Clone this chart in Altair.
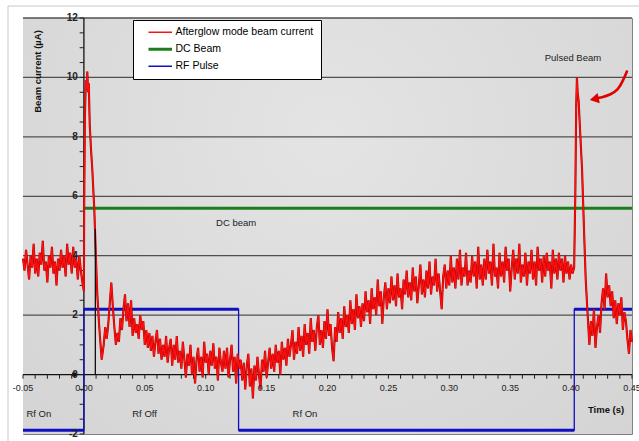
import altair as alt
import pandas as pd

FONT = "Liberation Sans"

# ---------------- data ----------------
SERIES = ["Afterglow mode beam current", "DC Beam", "RF Pulse"]
SERIES_COLORS = ["#ff1010", "#1a7f1a", "#1010c0"]

# red trace: sampled segments (time step 0.00125 s) and the two spikes
seg_a_start, seg_a_step = -0.05, 0.00125
seg_a_vals = [3.9, 3.5, 4.2, 3.7, 3.2, 4.0, 3.6, 4.4, 3.4, 3.9, 3.3, 4.1, 3.7, 4.5,
              3.5, 3.8, 3.1, 4.0, 3.6, 4.3, 3.4, 3.8, 3.0, 3.9, 3.5, 4.2, 3.6, 4.0,
              3.3, 4.4, 3.7, 4.1, 3.4, 4.3, 3.6, 3.9, 3.2, 4.0, 3.5, 3.1, 2.8]

spike1_t = [0.0002, 0.0008, 0.0016, 0.0022, 0.0028, 0.0034, 0.0040, 0.0048, 0.0058,
            0.0069, 0.0085, 0.0099, 0.0110, 0.0126, 0.0146]
spike1_v = [5.5, 8.6, 9.9, 9.6, 10.2, 9.5, 9.8, 8.4, 7.6, 6.9, 5.6, 3.9, 2.7, 1.6, 0.5]

seg_b_start, seg_b_step = 0.01625, 0.00125
seg_b_vals = [
    1.0, 1.6, 1.2, 1.7, 2.4, 3.1, 2.3, 1.6, 1.0, 1.4,
    1.1, 1.9, 1.5, 2.2, 2.7, 1.8, 2.4, 1.6, 2.5, 1.3,
    1.9, 1.4, 1.7, 1.2, 2.0, 1.5, 1.8, 1.0, 1.5, 0.9,
    1.4, 0.8, 1.3, 0.6, 1.1, 1.5, 0.7, 1.2, 0.5, 1.0,
    0.6, 1.3, 0.4, 0.9, 1.2, 0.3, 1.0, 0.5, 1.3, 0.4,
    0.8, 0.2, 1.1, 0.5, -0.1, 0.7, 0.3, 1.0, 0.0, 0.6,
    -0.3, 0.5, 0.9, 0.1, 0.6, -0.1, 1.1, 0.4, 0.7, 0.0,
    0.8, 0.3, 1.05, 0.2, 0.6, -0.2, 0.9, 0.4, 0.1, 0.8,
    0.2, 0.9, -0.1, 0.5, 1.0, 0.1, 0.6, -0.3, 0.7, 0.2,
    0.5, -0.2, 0.4, -0.5, 0.3, 0.7, -0.4, 0.2, -0.8, 0.3,
    -0.2, 0.6, 0.0, -0.5, 0.5, 0.1, 0.8, -0.1, 0.4, 0.9,
    0.2, 0.7, 0.1, 1.0, 0.4, 0.8, 0.0, 1.1, 0.5, 0.9,
    0.3, 1.2, 0.6, 1.0, 1.5, 0.5, 1.1, 0.7, 1.6, 0.8,
    1.3, 0.6, 1.7, 1.0, 1.4, 0.7, 1.9, 1.1, 1.5, 0.8,
    1.6, 2.0, 1.0, 1.5, 0.9, 1.8, 1.2, 2.2, 1.3, 1.7,
    0.9, 0.45, 1.6, 1.1, 2.1, 1.4, 1.9, 1.2, 2.3, 1.6,
    2.0, 1.4, 2.5, 1.7, 2.2, 1.5, 2.7, 1.9, 2.3, 1.6,
    2.4, 1.8, 2.8, 2.1, 2.5, 1.7, 2.9, 2.2, 2.6, 2.0,
    3.2, 2.3, 2.8, 1.7, 2.6, 3.1, 2.2, 2.9, 2.4, 3.3,
    2.5, 3.0, 2.3, 3.4, 2.6, 2.9, 2.2, 3.2, 2.7, 3.5,
    2.6, 3.1, 2.5, 3.6, 2.8, 3.3, 2.4, 3.0, 3.7, 2.7,
    3.2, 2.6, 3.5, 2.9, 3.8, 2.7, 3.3, 3.0, 3.9, 2.8,
    3.4, 2.8, 2.2, 3.3, 3.7, 2.9, 3.5, 3.0, 4.0, 3.1,
    3.6, 2.9, 3.9, 3.2, 4.2, 3.0, 3.6, 3.3, 4.1, 3.0,
    3.5, 3.1, 4.0, 3.3, 3.8, 2.9, 4.3, 3.2, 3.7, 3.0,
    3.9, 3.2, 4.2, 3.4, 3.8, 3.0, 4.4, 3.3, 3.6, 2.9,
    4.1, 3.3, 3.8, 3.1, 4.3, 3.5, 3.9, 2.8, 3.6, 4.2,
    3.2, 3.9, 3.4, 4.4, 3.1, 3.7, 3.3, 4.1, 3.0, 3.8,
    3.4, 4.2, 3.2, 3.8, 3.0, 4.3, 3.5, 3.9, 3.1, 4.0,
    3.3, 4.1, 3.5, 3.8, 2.9, 4.2, 3.4, 3.9, 3.2, 4.1,
    3.5, 3.9, 3.1, 4.0, 3.4, 3.8, 3.2, 3.7, 3.4, 3.6,
]

spike2_t = [0.4035, 0.4042, 0.4048, 0.4054, 0.4062, 0.4075, 0.4090, 0.4105, 0.4120, 0.4132]
spike2_v = [6.2, 9.1, 10.0, 9.5, 9.2, 8.1, 6.9, 5.0, 3.2, 2.3]

seg_c_start, seg_c_step = 0.415, 0.00125
seg_c_vals = [1.0, 1.8, 1.3, 2.2, 0.9, 1.6, 2.0, 1.4, 2.4, 2.9, 2.2, 3.4, 2.6, 3.0, 2.3,
              2.8, 1.9, 2.5, 1.7, 2.4, 2.0, 2.6, 1.5, 2.1, 1.8, 1.2, 0.7, 1.5, 1.1]

# DC beam level
dc_t = [0.0, 0.45]
dc_v = [5.6, 5.6]

# RF pulse (step)
rf_t = [-0.05, 0.0, 0.0, 0.127, 0.127, 0.4026, 0.4026, 0.45]
rf_v = [-1.87, -1.87, 2.2, 2.2, -1.87, -1.87, 2.2, 2.2]
rf_seg_start = [-0.05, 0.0, 0.127, 0.4026]
rf_seg_end = [0.0, 0.127, 0.4026, 0.45]
rf_seg_level = [-1.87, 2.2, -1.87, 2.2]

# axes
x_ticks = [-0.05, 0.0, 0.05, 0.10, 0.15, 0.20, 0.25, 0.30, 0.35, 0.40, 0.45]
x_labels = ["-0.05", "0.00", "0.05", "0.10", "0.15", "0.20", "0.25", "0.30", "0.35", "0.40", "0.45"]
x_minor = [round(-0.05 + 0.01 * i, 3) for i in range(51)]
y_ticks = [-2, 0, 2, 4, 6, 8, 10, 12]
y_labels = ["-2", "0", "2", "4", "6", "8", "10", "12"]
y_minor = [-2 + 0.5 * i for i in range(29)]
grid_y = [2, 4, 6, 8, 10, 12]

# annotations
ann_text = ["DC beam", "Pulsed Beam", "Rf On", "Rf Off", "Rf On"]
ann_x = [0.125, 0.4015, -0.037, 0.0498, 0.1815]
ann_y = [5.10, 10.65, -1.33, -1.33, -1.33]
time_title = ["Time (s)"]
time_x = [0.4287]
time_y = [-1.19]
ytitle = ["Beam current (µA)"]
ytitle_x = [-0.0377]
ytitle_y = [10.2]

# black marker line / dot near the first pulse
marker_line_t = [0.0094]
marker_line_v0 = [0.0]
marker_line_v1 = [4.9]
dot_t = [-0.008]
dot_v = [0.0]

# curved arrow to the pulsed beam
arrow_t = [0.4461, 0.4428, 0.4387, 0.4319, 0.4251, 0.4200]
arrow_v = [10.23, 9.91, 9.58, 9.41, 9.33, 9.29]
arrow_head_t = [0.4190]
arrow_head_v = [9.27]

# ---------------- frames ----------------
red_t, red_v = [], []
red_t += [round(seg_a_start + seg_a_step * i, 6) for i in range(len(seg_a_vals))]
red_v += seg_a_vals
red_t += spike1_t
red_v += spike1_v
red_t += [round(seg_b_start + seg_b_step * i, 6) for i in range(len(seg_b_vals))]
red_v += seg_b_vals
red_t += spike2_t
red_v += spike2_v
red_t += [round(seg_c_start + seg_c_step * i, 6) for i in range(len(seg_c_vals))]
red_v += seg_c_vals

red_df = pd.DataFrame({"t": red_t, "v": red_v, "i": range(len(red_t)), "series": SERIES[0]})
dc_df = pd.DataFrame({"t": dc_t, "v": dc_v, "i": range(2), "series": SERIES[1]})
rf_df = pd.DataFrame({"t": rf_t, "v": rf_v, "i": range(len(rf_t)), "series": SERIES[2]})
rf_seg_df = pd.DataFrame({"t": rf_seg_start, "t2": rf_seg_end, "v": rf_seg_level})

XS = alt.Scale(domain=[-0.05, 0.45], nice=False, zero=False)
YS = alt.Scale(domain=[-2, 12], nice=False, zero=False)


def X(f):
    return alt.X(f, type="quantitative", scale=XS, axis=None)


def Y(f):
    return alt.Y(f, type="quantitative", scale=YS, axis=None)


color_enc = alt.Color(
    "series:N",
    scale=alt.Scale(domain=SERIES, range=SERIES_COLORS),
    legend=alt.Legend(
        title=None, orient="none", legendX=110, legendY=2, direction="vertical",
        fillColor="white", strokeColor="black", padding=7,
        symbolType="M-1.47,0H1.47", symbolSize=256, symbolOffset=15,
        symbolStrokeWidth={"expr": "datum.value == 'DC Beam' ? 3 : 1.5"},
        labelOffset=10, labelFont=FONT, labelFontSize=10.5, labelColor="black",
        labelExpr="datum.label + '            '", rowPadding=5, labelLimit=0,
    ),
)

one = pd.DataFrame({"k": [0]})

bg = alt.Chart(one).mark_rect(
    fill=alt.RadialGradient(
        gradient="radial",
        stops=[alt.GradientStop(color="#e4e4e4", offset=0),
               alt.GradientStop(color="#d3d3d3", offset=1)],
        x1=0.5, y1=0.35, r1=0, x2=0.5, y2=0.35, r2=0.75,
    )
).encode(x=alt.value(0), x2=alt.value(609), y=alt.value(0), y2=alt.value(416))

frame_top = alt.Chart(one).mark_rule(color="#c8c8c8", strokeWidth=1).encode(
    x=alt.value(-15), x2=alt.value(620), y=alt.value(-12))
frame_left = alt.Chart(one).mark_rule(color="#c8c8c8", strokeWidth=1).encode(
    x=alt.value(-15), y=alt.value(-12), y2=alt.value(430))

grid = alt.Chart(pd.DataFrame({"v": grid_y})).mark_rule(color="#505050", strokeWidth=1.3).encode(y=Y("v"))

xaxis = alt.Chart(pd.DataFrame({"v": [0.0]})).mark_rule(color="#111111", strokeWidth=1.3).encode(y=Y("v"))
yaxis = alt.Chart(pd.DataFrame({"t": [0.0]})).mark_rule(color="#111111", strokeWidth=1.3).encode(x=X("t"))

xminor_df = pd.DataFrame({"t": x_minor, "a": 0.0, "b": -0.14})
xminor = alt.Chart(xminor_df).mark_rule(color="#222222", strokeWidth=1).encode(
    x=X("t"), y=Y("a"), y2=alt.Y2("b"))
yminor_df = pd.DataFrame({"v": y_minor, "a": 0.0, "b": -0.0035})
yminor = alt.Chart(yminor_df).mark_rule(color="#222222", strokeWidth=1).encode(
    y=Y("v"), x=X("a"), x2=alt.X2("b"))

xlab_df = pd.DataFrame({"t": x_ticks, "label": x_labels, "v": 0.0})
xlab = alt.Chart(xlab_df).mark_text(
    font=FONT, fontSize=9, color="#222222", dy=13, baseline="middle", align="center"
).encode(x=X("t"), y=Y("v"), text="label:N")

ylab_df = pd.DataFrame({"v": y_ticks, "label": y_labels, "t": 0.0})
ylab = alt.Chart(ylab_df).mark_text(
    font=FONT, fontSize=10, fontWeight="bold", color="#222222", dx=-6, baseline="middle", align="right"
).encode(x=X("t"), y=Y("v"), text="label:N")

dc = alt.Chart(dc_df).mark_line(strokeWidth=3).encode(
    x=X("t"), y=Y("v"), order="i:Q", color=color_enc)

rf_line = alt.Chart(rf_df).mark_line(strokeWidth=1.3).encode(
    x=X("t"), y=Y("v"), order="i:Q", color=color_enc)
rf_thick = alt.Chart(rf_seg_df).mark_rule(color="#1010c0", strokeWidth=3).encode(
    x=X("t"), x2=alt.X2("t2"), y=Y("v"))

red_under = alt.Chart(red_df).mark_line(strokeWidth=2.1, color="#b00000").encode(
    x=X("t"), y=Y("v"), order="i:Q")
red = alt.Chart(red_df).mark_line(strokeWidth=1.2).encode(
    x=X("t"), y=Y("v"), order="i:Q", color=color_enc)

mline_df = pd.DataFrame({"t": marker_line_t, "a": marker_line_v0, "b": marker_line_v1})
mline = alt.Chart(mline_df).mark_rule(color="#111111", strokeWidth=1.3).encode(
    x=X("t"), y=Y("a"), y2=alt.Y2("b"))
dot = alt.Chart(pd.DataFrame({"t": dot_t, "v": dot_v})).mark_point(
    filled=True, color="#111111", size=22, opacity=1).encode(x=X("t"), y=Y("v"))

ann = alt.Chart(pd.DataFrame({"t": ann_x, "v": ann_y, "label": ann_text})).mark_text(
    font=FONT, fontSize=9.5, color="#222222", align="center", baseline="middle"
).encode(x=X("t"), y=Y("v"), text="label:N")
tt = alt.Chart(pd.DataFrame({"t": time_x, "v": time_y, "label": time_title})).mark_text(
    font=FONT, fontSize=9.5, fontWeight="bold", color="#111111", align="center", baseline="middle"
).encode(x=X("t"), y=Y("v"), text="label:N")
yt = alt.Chart(pd.DataFrame({"t": ytitle_x, "v": ytitle_y, "label": ytitle})).mark_text(
    font=FONT, fontSize=9.5, fontWeight="bold", color="#111111", align="center", baseline="middle", angle=270
).encode(x=X("t"), y=Y("v"), text="label:N")

arrow_df = pd.DataFrame({"t": arrow_t, "v": arrow_v, "i": range(len(arrow_t))})
arrow = alt.Chart(arrow_df).mark_line(color="#e00000", strokeWidth=2.6, interpolate="basis").encode(
    x=X("t"), y=Y("v"), order="i:Q")
arrow_head = alt.Chart(pd.DataFrame({"t": arrow_head_t, "v": arrow_head_v})).mark_point(
    shape="triangle-left", filled=True, color="#e00000", size=110, opacity=1, angle=348
).encode(x=X("t"), y=Y("v"))

chart = alt.layer(
    frame_top, frame_left, bg, grid, xaxis, yaxis, xminor, yminor,
    dc, rf_line, rf_thick, red_under, red, mline, dot,
    xlab, ylab, ann, tt, yt, arrow, arrow_head,
).properties(
    width=609, height=416,
    padding={"left": 23, "top": 18, "right": 7, "bottom": 7},
    autosize=alt.AutoSizeParams(type="none"),
    background="white",
).configure_view(stroke="#808080", strokeWidth=1)

chart.save("out.html", embed_options={"renderer": "svg", "actions": False})
